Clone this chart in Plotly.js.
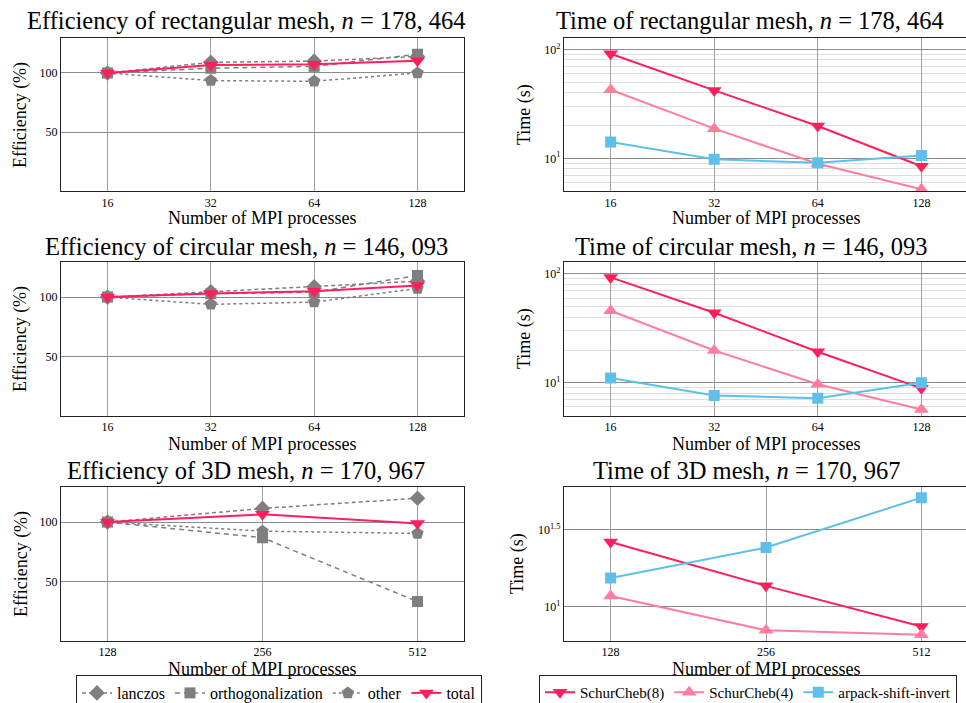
<!DOCTYPE html>
<html>
<head>
<meta charset="utf-8">
<script src="https://cdn.plot.ly/plotly-3.0.1.min.js"></script>
<style>
  html, body { margin: 0; padding: 0; overflow: hidden; background: #fff; }
  #chart { width: 980px; height: 703px; }
</style>
</head>
<body>
<div id="chart"></div>
<script>
// MPI process counts
const procs2D = [16, 32, 64, 128];
const procs3D = [128, 256, 512];

// Parallel efficiency (%) per phase
const effRectLanczos = [100, 109, 110, 114];
const effRectOrtho   = [100, 104, 105.6, 115.8];
const effRectOther   = [100, 93.6, 93, 100];
const effRectTotal   = [100, 106.8, 107.3, 110.4];

const effCircLanczos = [100, 104.5, 108.7, 113.4];
const effCircOrtho   = [100, 102.8, 104.2, 118.2];
const effCircOther   = [100, 93.9, 95.8, 107.3];
const effCircTotal   = [100, 103, 105, 109.8];

const eff3DLanczos = [100, 111.5, 120.1];
const eff3DOrtho   = [100, 86.9, 33.2];
const eff3DOther   = [100, 92.4, 90.5];
const eff3DTotal   = [100, 106.5, 98.9];

// Wall-clock time (s) per solver
const timeRectCheb8  = [91, 42, 19.8, 8.45];
const timeRectCheb4  = [42.6, 18.7, 8.9, 5.2];
const timeRectArpack = [14.1, 9.8, 9.1, 10.6];

const timeCircCheb8  = [93, 44, 19.3, 8.9];
const timeCircCheb4  = [45.9, 19.8, 9.7, 5.7];
const timeCircArpack = [11.1, 7.65, 7.23, 10.0];

const time3DCheb8  = [26.2, 13.6, 7.4];
const time3DCheb4  = [11.7, 7.0, 6.55];
const time3DArpack = [15.3, 24.1, 50.8];

const effNames  = ['lanczos', 'orthogonalization', 'other', 'total'];
const timeNames = ['SchurCheb(8)', 'SchurCheb(4)', 'arpack-shift-invert'];

const W = 980, H = 703;
const FONT = 'Liberation Serif, Times New Roman, serif';
const RED = '#ff1f5b', PINK = '#ff7e9d', BLUE = '#5ec0ea', GRAY = '#7f7f7f';

const effStyles = [
  {line: {color: GRAY, width: 1.5, dash: '4px,3px'}, marker: {symbol: 'diamond', size: 12, color: GRAY}},
  {line: {color: GRAY, width: 1.5, dash: '5px,4px'}, marker: {symbol: 'square', size: 11, color: GRAY}},
  {line: {color: GRAY, width: 1.5, dash: 'dot'}, marker: {symbol: 'pentagon', size: 13, color: GRAY}},
  {line: {color: RED, width: 2}, marker: {symbol: 'triangle-down', size: 13, color: RED}}
];
const timeStyles = [
  {line: {color: RED, width: 2}, marker: {symbol: 'triangle-down', size: 13, color: RED}},
  {line: {color: PINK, width: 2}, marker: {symbol: 'triangle-up', size: 13, color: PINK}},
  {line: {color: BLUE, width: 2}, marker: {symbol: 'square', size: 11, color: BLUE}}
];

const traces = [];
function addGroup(x, series, names, styles, axisIdx, legendId, showInLegend) {
  series.forEach((y, i) => {
    traces.push({
      x: x, y: y, name: names[i], type: 'scatter', mode: 'lines+markers',
      line: styles[i].line, marker: styles[i].marker,
      xaxis: 'x' + (axisIdx === 1 ? '' : axisIdx),
      yaxis: 'y' + (axisIdx === 1 ? '' : axisIdx),
      legend: legendId, showlegend: showInLegend
    });
  });
}

addGroup(procs2D, [effRectLanczos, effRectOrtho, effRectOther, effRectTotal], effNames, effStyles, 1, 'legend', false);
addGroup(procs2D, [timeRectCheb8, timeRectCheb4, timeRectArpack], timeNames, timeStyles, 2, 'legend2', false);
addGroup(procs2D, [effCircLanczos, effCircOrtho, effCircOther, effCircTotal], effNames, effStyles, 3, 'legend', false);
addGroup(procs2D, [timeCircCheb8, timeCircCheb4, timeCircArpack], timeNames, timeStyles, 4, 'legend2', false);
addGroup(procs3D, [eff3DLanczos, eff3DOrtho, eff3DOther, eff3DTotal], effNames, effStyles, 5, 'legend', true);
addGroup(procs3D, [time3DCheb8, time3DCheb4, time3DArpack], timeNames, timeStyles, 6, 'legend2', true);

// panel frames in pixels: [left, top, right, bottom]
const frames = {
  1: [61, 38, 464, 191],   2: [564, 38, 968, 191],
  3: [61, 262, 464, 415.5], 4: [564, 262, 968, 415.5],
  5: [61, 487, 464, 640.5], 6: [564, 487, 968, 640.5]
};
function xdom(f) { return [f[0] / W, f[2] / W]; }
function ydom(f) { return [(H - f[3]) / H, (H - f[1]) / H]; }

// log-spaced process axis padded by 15% of the span on each side
function procRange(p) {
  const a = Math.log10(p[0]), b = Math.log10(p[p.length - 1]);
  const pad = 0.15 * (b - a);
  return [a - pad, b + pad];
}

const tickFont = {family: FONT, size: 12, color: '#000'};
function xAxis(idx, procs) {
  return {
    domain: xdom(frames[idx]), anchor: 'y' + (idx === 1 ? '' : idx),
    type: 'log', range: procRange(procs), tickmode: 'array',
    tickvals: procs, ticktext: procs.map(String),
    showgrid: true, gridcolor: '#a0a0a0', gridwidth: 1,
    showline: true, mirror: true, linecolor: '#222', linewidth: 1.2,
    ticks: '', tickfont: tickFont, zeroline: false, fixedrange: true
  };
}
function effAxis(idx) {
  return {
    domain: ydom(frames[idx]), anchor: 'x' + (idx === 1 ? '' : idx),
    range: [0.5, 129.5], tickmode: 'array', tickvals: [50, 100], ticktext: ['50', '100'],
    showgrid: true, gridcolor: '#8c8c8c', gridwidth: 1,
    showline: true, mirror: true, linecolor: '#222', linewidth: 1.2,
    ticks: '', tickfont: tickFont, zeroline: false, fixedrange: true
  };
}
// minor gridlines at 2..9 times each decade
const minorVals = [];
[1, 10, 100].forEach(d => { for (let k = 2; k <= 9; k++) minorVals.push(k * d); });
function timeAxis(idx, range, vals, labels, minor) {
  const ax = {
    domain: ydom(frames[idx]), anchor: 'x' + idx,
    type: 'log', range: range, tickmode: 'array', tickvals: vals, ticktext: labels,
    showgrid: true, gridcolor: '#8c8c8c', gridwidth: 1,
    showline: true, mirror: true, linecolor: '#222', linewidth: 1.2,
    ticks: '', tickfont: tickFont, zeroline: false, fixedrange: true
  };
  if (minor) ax.minor = {tickmode: 'array', tickvals: minorVals, showgrid: true, gridcolor: '#dedede', gridwidth: 1, ticks: ''};
  return ax;
}

const annotations = [];
function txt(x, y, text, size, angle) {
  annotations.push({
    xref: 'paper', yref: 'paper', x: x / W, y: (H - y) / H, text: text,
    showarrow: false, xanchor: 'center', yanchor: 'middle',
    font: {family: FONT, size: size, color: '#000'}, textangle: angle || 0
  });
}
// panel titles
txt(246, 21, 'Efficiency of rectangular mesh, <i>n</i> = 178, 464', 24.5);
txt(750, 21, 'Time of rectangular mesh, <i>n</i> = 178, 464', 24.5);
txt(246, 246, 'Efficiency of circular mesh, <i>n</i> = 146, 093', 24.5);
txt(751, 246, 'Time of circular mesh, <i>n</i> = 146, 093', 24.5);
txt(246, 471, 'Efficiency of 3D mesh, <i>n</i> = 170, 967', 24.5);
txt(747, 471, 'Time of 3D mesh, <i>n</i> = 170, 967', 24.5);
// axis titles
[218, 444, 669].forEach(y => {
  txt(262, y, 'Number of MPI processes', 18);
  txt(766, y, 'Number of MPI processes', 18);
});
txt(21, 115, 'Efficiency (%)', 18, -90);
txt(21, 339, 'Efficiency (%)', 18, -90);
txt(21, 564, 'Efficiency (%)', 18, -90);
txt(525, 115, 'Time (s)', 18, -90);
txt(525, 339, 'Time (s)', 18, -90);
txt(517, 564, 'Time (s)', 18, -90);

const legendBase = {
  orientation: 'h', yanchor: 'top', xanchor: 'left',
  bgcolor: '#fff', bordercolor: '#222', borderwidth: 1,
  itemwidth: 30, tracegroupgap: 0, traceorder: 'normal'
};

const layout = {
  width: W, height: H,
  margin: {l: 0, r: 0, t: 0, b: 0, autoexpand: false},
  paper_bgcolor: '#fff', plot_bgcolor: '#fff',
  showlegend: true,
  legend: Object.assign({}, legendBase, {x: 76 / W, y: (H - 675) / H,
    font: {family: FONT, size: 16, color: '#000'}}),
  legend2: Object.assign({}, legendBase, {x: 539 / W, y: (H - 675) / H,
    font: {family: FONT, size: 15, color: '#000'}}),
  xaxis: xAxis(1, procs2D), yaxis: effAxis(1),
  xaxis2: xAxis(2, procs2D), yaxis2: timeAxis(2, [0.70, 2.104], [10, 100], ['10<sup>1</sup>', '10<sup>2</sup>'], true),
  xaxis3: xAxis(3, procs2D), yaxis3: effAxis(3),
  xaxis4: xAxis(4, procs2D), yaxis4: timeAxis(4, [0.70, 2.11], [10, 100], ['10<sup>1</sup>', '10<sup>2</sup>'], true),
  xaxis5: xAxis(5, procs3D), yaxis5: effAxis(5),
  xaxis6: xAxis(6, procs3D), yaxis6: timeAxis(6, [0.779, 1.775], [10, Math.pow(10, 1.5)], ['10<sup>1</sup>', '10<sup>1.5</sup>'], false),
  annotations: annotations
};

Plotly.newPlot('chart', traces, layout, {staticPlot: true, displayModeBar: false});
</script>
</body>
</html>
